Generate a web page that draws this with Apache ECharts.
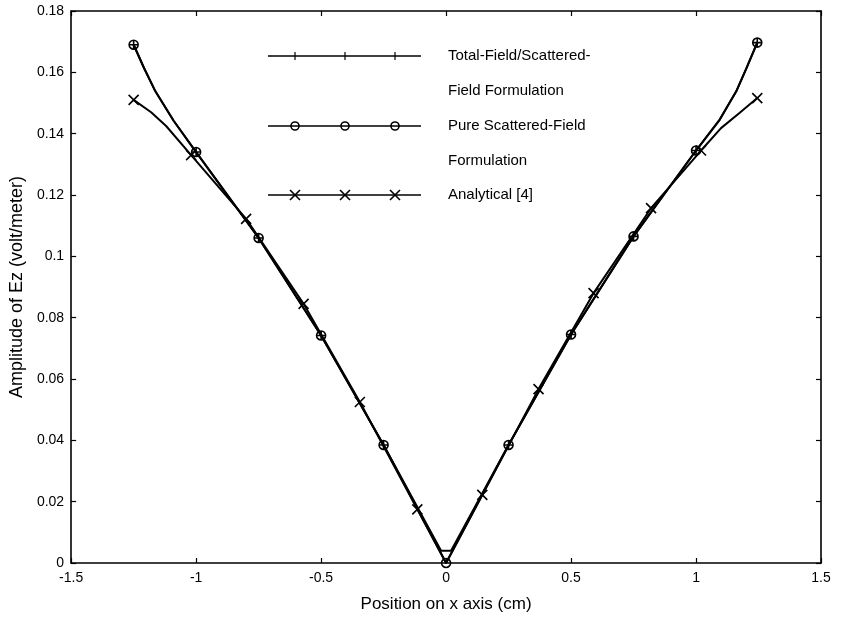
<!DOCTYPE html>
<html>
<head>
<meta charset="utf-8">
<script src="https://cdn.jsdelivr.net/npm/echarts@6/dist/echarts.min.js"></script>
<style>
    html, body { margin: 0; background: #fff; }
    #chart { width: 841px; height: 620px; }
</style>
</head>
<body>
<div id="chart"></div>
<script>
// pure scattered-field formulation (circles); 0 = trace point without marker
const pureX = [-1.25, -1.209, -1.163, -1.09, -1.0, -0.75, -0.5, -0.25, 0, 0.25, 0.5, 0.75, 1.0, 1.095, 1.161, 1.201, 1.245];
const pureY = [0.169, 0.1615, 0.1538, 0.1442, 0.134, 0.106, 0.0742, 0.0385, 0, 0.0385, 0.0745, 0.1065, 0.1345, 0.1446, 0.1538, 0.1612, 0.1697];
const pureMarked = [1, 0, 0, 0, 1, 1, 1, 1, 1, 1, 1, 1, 1, 0, 0, 0, 1];

// total-field/scattered-field formulation (+)
const totalX = [-1.25, -1.209, -1.163, -1.09, -1.0, -0.75, -0.5, -0.25, -0.02, 0.02, 0.25, 0.5, 0.75, 1.0, 1.095, 1.161, 1.201, 1.245];
const totalY = [0.169, 0.1615, 0.1538, 0.1442, 0.134, 0.106, 0.0742, 0.0385, 0.004, 0.004, 0.0385, 0.0745, 0.1065, 0.1345, 0.1446, 0.1538, 0.1612, 0.1697];
const totalMarked = [1, 0, 0, 0, 1, 1, 1, 1, 0, 0, 1, 1, 1, 1, 0, 0, 0, 1];

// analytical [4] (crosses)
const analX = [-1.25, -1.18, -1.12, -1.02, -0.8, -0.57, -0.345, -0.115, 0, 0.145, 0.37, 0.59, 0.82, 1.02, 1.1, 1.175, 1.245];
const analY = [0.151, 0.147, 0.1425, 0.133, 0.1122, 0.0845, 0.0525, 0.0175, 0, 0.0222, 0.0567, 0.088, 0.1157, 0.1345, 0.1418, 0.1468, 0.1516];
const analMarked = [1, 0, 0, 1, 1, 1, 1, 1, 0, 1, 1, 1, 1, 1, 0, 0, 1];

const legendLabels = [
    ['Total-Field/Scattered-', 'Field Formulation'],
    ['Pure Scattered-Field', 'Formulation'],
    ['Analytical [4]']
];

const FONT = '"Liberation Sans", Arial, sans-serif';
const CROSS = 'path://M0,0L10,10M10,0L0,10';
const PLUS = 'path://M5,0L5,10M0,5L10,5';

function buildData(xs, ys, marked) {
    return xs.map((x, i) => marked[i] ? [x, ys[i]] : { value: [x, ys[i]], symbol: 'none' });
}

function lineSeries(name, data, symbol, size) {
    return {
        name: name,
        type: 'line',
        data: data,
        symbol: symbol,
        symbolSize: size,
        showAllSymbol: true,
        lineStyle: { color: '#000', width: 2 },
        itemStyle: { color: 'transparent', borderColor: '#000', borderWidth: 1.6 },
        z: 3
    };
}

////////  legend drawn by hand (three markers per sample line)  ////////
function legendGraphic() {
    const els = [];
    const rowY = [56, 126, 195];
    const markers = ['plus', 'circle', 'cross'];
    rowY.forEach((y, r) => {
        els.push({ type: 'line', shape: { x1: 268, y1: y, x2: 421, y2: y }, style: { stroke: '#000', lineWidth: 1.6 } });
        for (const cx of [295, 345, 395]) {
            if (markers[r] === 'circle') {
                els.push({ type: 'circle', shape: { cx: cx, cy: y, r: 4 }, style: { fill: 'none', stroke: '#000', lineWidth: 1.6 } });
            } else if (markers[r] === 'cross') {
                els.push({ type: 'line', shape: { x1: cx - 5, y1: y - 5, x2: cx + 5, y2: y + 5 }, style: { stroke: '#000', lineWidth: 1.6 } });
                els.push({ type: 'line', shape: { x1: cx - 5, y1: y + 5, x2: cx + 5, y2: y - 5 }, style: { stroke: '#000', lineWidth: 1.6 } });
            } else {
                els.push({ type: 'line', shape: { x1: cx, y1: y - 4, x2: cx, y2: y + 4 }, style: { stroke: '#000', lineWidth: 1.2 } });
            }
        }
        legendLabels[r].forEach((t, i) => {
            els.push({
                type: 'text', x: 448, y: y + i * 35,
                style: { text: t, fill: '#000', font: '15px ' + FONT, verticalAlign: 'middle' }
            });
        });
    });
    return els;
}

const axisCommon = {
    type: 'value',
    axisLine: { show: true, onZero: false, lineStyle: { color: '#000', width: 1.6 } },
    axisTick: { show: true, inside: true, length: 5, lineStyle: { color: '#000', width: 1.2 } },
    splitLine: { show: false }
};

const chart = echarts.init(document.getElementById('chart'), null, { renderer: 'canvas' });
chart.setOption({
    animation: false,
    backgroundColor: '#fff',
    textStyle: { fontFamily: FONT },
    grid: { left: 70, right: 20, top: 11, bottom: 57 },
    xAxis: [
        Object.assign({}, axisCommon, {
            min: -1.5, max: 1.5, interval: 0.5, position: 'bottom',
            name: 'Position on x axis (cm)', nameLocation: 'middle', nameGap: 33,
            nameTextStyle: { color: '#000', fontSize: 17, fontFamily: FONT },
            axisLabel: { color: '#000', fontSize: 14, margin: 8, fontFamily: FONT }
        }),
        Object.assign({}, axisCommon, {
            min: -1.5, max: 1.5, interval: 0.5, position: 'top',
            axisLabel: { show: false }
        })
    ],
    yAxis: [
        Object.assign({}, axisCommon, {
            min: 0, max: 0.18, interval: 0.02, position: 'left',
            name: 'Amplitude of Ez (volt/meter)', nameLocation: 'middle', nameGap: 43,
            nameTextStyle: { color: '#000', fontSize: 18, fontFamily: FONT },
            axisLabel: { color: '#000', fontSize: 14, margin: 7, fontFamily: FONT }
        }),
        Object.assign({}, axisCommon, {
            min: 0, max: 0.18, interval: 0.02, position: 'right',
            axisLabel: { show: false }
        })
    ],
    graphic: legendGraphic(),
    series: [
        lineSeries('Total-Field/Scattered-Field Formulation', buildData(totalX, totalY, totalMarked), PLUS, 9),
        lineSeries('Pure Scattered-Field Formulation', buildData(pureX, pureY, pureMarked), 'circle', 9),
        lineSeries('Analytical [4]', buildData(analX, analY, analMarked), CROSS, 10)
    ]
});
</script>
</body>
</html>
